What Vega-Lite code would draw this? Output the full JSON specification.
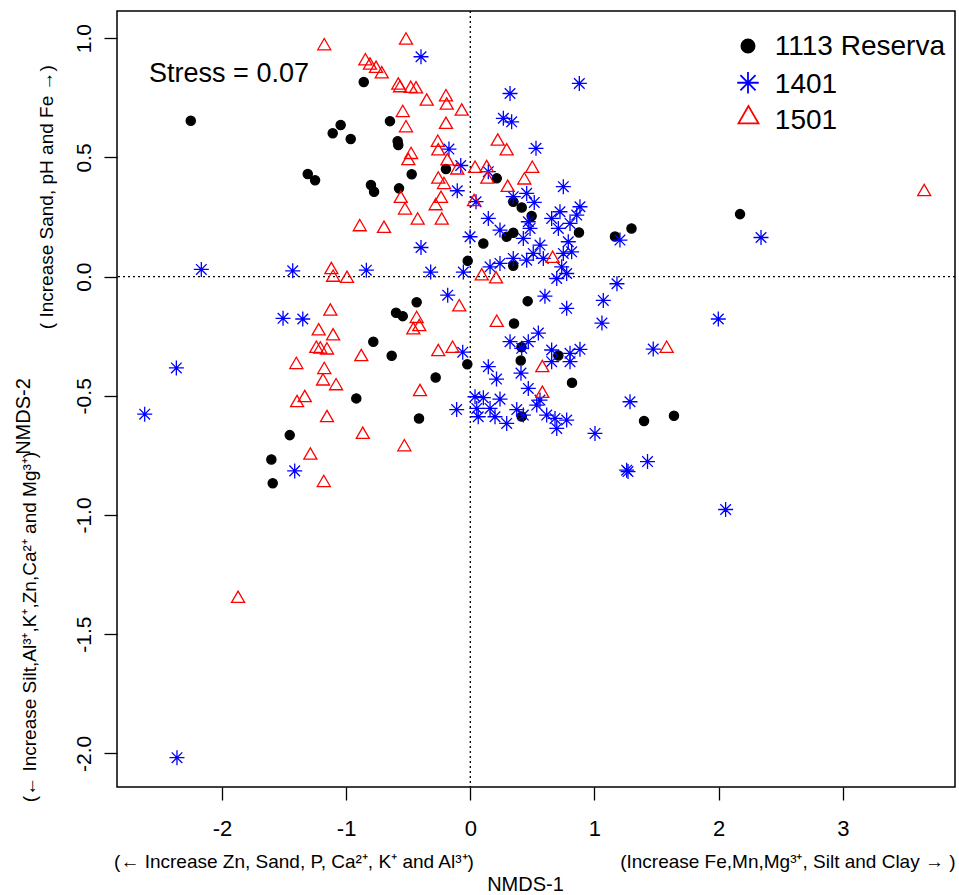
{
  "$schema": "https://vega.github.io/schema/vega-lite/v6.json",
  "width": 838,
  "height": 776,
  "autosize": {"type": "none"},
  "padding": {"left": 117, "top": 11, "right": 4, "bottom": 108},
  "background": "white",
  "config": {
    "view": {"stroke": "#000000", "strokeWidth": 1.5},
    "font": "Liberation Sans"
  },
  "datasets": {
    "nmds": [
      {"site": "1113 Reserva", "NMDS1": -2.251, "NMDS2": 0.654},
      {"site": "1113 Reserva", "NMDS1": -0.858, "NMDS2": 0.816},
      {"site": "1113 Reserva", "NMDS1": -1.044, "NMDS2": 0.636},
      {"site": "1113 Reserva", "NMDS1": -1.108, "NMDS2": 0.601},
      {"site": "1113 Reserva", "NMDS1": -0.963, "NMDS2": 0.577},
      {"site": "1113 Reserva", "NMDS1": -1.309, "NMDS2": 0.430},
      {"site": "1113 Reserva", "NMDS1": -1.250, "NMDS2": 0.404},
      {"site": "1113 Reserva", "NMDS1": -0.800, "NMDS2": 0.384},
      {"site": "1113 Reserva", "NMDS1": -0.775, "NMDS2": 0.356},
      {"site": "1113 Reserva", "NMDS1": -0.647, "NMDS2": 0.652},
      {"site": "1113 Reserva", "NMDS1": -0.585, "NMDS2": 0.568},
      {"site": "1113 Reserva", "NMDS1": -0.580, "NMDS2": 0.552},
      {"site": "1113 Reserva", "NMDS1": -0.472, "NMDS2": 0.429},
      {"site": "1113 Reserva", "NMDS1": -0.574, "NMDS2": 0.370},
      {"site": "1113 Reserva", "NMDS1": -0.196, "NMDS2": 0.451},
      {"site": "1113 Reserva", "NMDS1": 0.213, "NMDS2": 0.412},
      {"site": "1113 Reserva", "NMDS1": 0.346, "NMDS2": 0.314},
      {"site": "1113 Reserva", "NMDS1": 0.414, "NMDS2": 0.290},
      {"site": "1113 Reserva", "NMDS1": 0.494, "NMDS2": 0.254},
      {"site": "1113 Reserva", "NMDS1": 0.346, "NMDS2": 0.184},
      {"site": "1113 Reserva", "NMDS1": 0.293, "NMDS2": 0.167},
      {"site": "1113 Reserva", "NMDS1": 0.875, "NMDS2": 0.185},
      {"site": "1113 Reserva", "NMDS1": 1.165, "NMDS2": 0.168},
      {"site": "1113 Reserva", "NMDS1": 0.105, "NMDS2": 0.139},
      {"site": "1113 Reserva", "NMDS1": -0.021, "NMDS2": 0.066},
      {"site": "1113 Reserva", "NMDS1": 0.346, "NMDS2": 0.045},
      {"site": "1113 Reserva", "NMDS1": 1.298, "NMDS2": 0.202},
      {"site": "1113 Reserva", "NMDS1": 2.172, "NMDS2": 0.262},
      {"site": "1113 Reserva", "NMDS1": -0.432, "NMDS2": -0.108},
      {"site": "1113 Reserva", "NMDS1": -0.598, "NMDS2": -0.152},
      {"site": "1113 Reserva", "NMDS1": -0.544, "NMDS2": -0.166},
      {"site": "1113 Reserva", "NMDS1": -0.781, "NMDS2": -0.273},
      {"site": "1113 Reserva", "NMDS1": -0.633, "NMDS2": -0.332},
      {"site": "1113 Reserva", "NMDS1": -0.024, "NMDS2": -0.368},
      {"site": "1113 Reserva", "NMDS1": -0.279, "NMDS2": -0.423},
      {"site": "1113 Reserva", "NMDS1": -0.413, "NMDS2": -0.595},
      {"site": "1113 Reserva", "NMDS1": 0.462, "NMDS2": -0.103},
      {"site": "1113 Reserva", "NMDS1": 0.352, "NMDS2": -0.197},
      {"site": "1113 Reserva", "NMDS1": 0.412, "NMDS2": -0.296},
      {"site": "1113 Reserva", "NMDS1": 0.406, "NMDS2": -0.352},
      {"site": "1113 Reserva", "NMDS1": 0.709, "NMDS2": -0.331},
      {"site": "1113 Reserva", "NMDS1": 0.819, "NMDS2": -0.445},
      {"site": "1113 Reserva", "NMDS1": 0.414, "NMDS2": -0.587},
      {"site": "1113 Reserva", "NMDS1": 1.399, "NMDS2": -0.606},
      {"site": "1113 Reserva", "NMDS1": 1.640, "NMDS2": -0.584},
      {"site": "1113 Reserva", "NMDS1": -0.918, "NMDS2": -0.511},
      {"site": "1113 Reserva", "NMDS1": -1.454, "NMDS2": -0.665},
      {"site": "1113 Reserva", "NMDS1": -1.602, "NMDS2": -0.767},
      {"site": "1113 Reserva", "NMDS1": -1.591, "NMDS2": -0.867},
      {"site": "1401", "NMDS1": -0.397, "NMDS2": 0.922},
      {"site": "1401", "NMDS1": 0.320, "NMDS2": 0.768},
      {"site": "1401", "NMDS1": 0.878, "NMDS2": 0.810},
      {"site": "1401", "NMDS1": 0.266, "NMDS2": 0.664},
      {"site": "1401", "NMDS1": 0.333, "NMDS2": 0.649},
      {"site": "1401", "NMDS1": 0.529, "NMDS2": 0.538},
      {"site": "1401", "NMDS1": -0.172, "NMDS2": 0.535},
      {"site": "1401", "NMDS1": -0.077, "NMDS2": 0.466},
      {"site": "1401", "NMDS1": 0.145, "NMDS2": 0.440},
      {"site": "1401", "NMDS1": -0.105, "NMDS2": 0.360},
      {"site": "1401", "NMDS1": 0.046, "NMDS2": 0.314},
      {"site": "1401", "NMDS1": 0.749, "NMDS2": 0.377},
      {"site": "1401", "NMDS1": 0.346, "NMDS2": 0.335},
      {"site": "1401", "NMDS1": 0.454, "NMDS2": 0.349},
      {"site": "1401", "NMDS1": 0.515, "NMDS2": 0.311},
      {"site": "1401", "NMDS1": 0.145, "NMDS2": 0.244},
      {"site": "1401", "NMDS1": 0.722, "NMDS2": 0.272},
      {"site": "1401", "NMDS1": 0.883, "NMDS2": 0.293},
      {"site": "1401", "NMDS1": 0.857, "NMDS2": 0.258},
      {"site": "1401", "NMDS1": 0.655, "NMDS2": 0.244},
      {"site": "1401", "NMDS1": 0.803, "NMDS2": 0.223},
      {"site": "1401", "NMDS1": 0.709, "NMDS2": 0.202},
      {"site": "1401", "NMDS1": 0.467, "NMDS2": 0.230},
      {"site": "1401", "NMDS1": 0.481, "NMDS2": 0.202},
      {"site": "1401", "NMDS1": 0.239, "NMDS2": 0.195},
      {"site": "1401", "NMDS1": 0.427, "NMDS2": 0.160},
      {"site": "1401", "NMDS1": 0.561, "NMDS2": 0.132},
      {"site": "1401", "NMDS1": 0.789, "NMDS2": 0.146},
      {"site": "1401", "NMDS1": 0.749, "NMDS2": 0.097},
      {"site": "1401", "NMDS1": 0.816, "NMDS2": 0.104},
      {"site": "1401", "NMDS1": 0.507, "NMDS2": 0.097},
      {"site": "1401", "NMDS1": 0.454, "NMDS2": 0.069},
      {"site": "1401", "NMDS1": 0.346, "NMDS2": 0.076},
      {"site": "1401", "NMDS1": 0.239, "NMDS2": 0.055},
      {"site": "1401", "NMDS1": 0.159, "NMDS2": 0.041},
      {"site": "1401", "NMDS1": 0.588, "NMDS2": 0.076},
      {"site": "1401", "NMDS1": 0.736, "NMDS2": 0.041},
      {"site": "1401", "NMDS1": 0.776, "NMDS2": 0.013},
      {"site": "1401", "NMDS1": 0.696, "NMDS2": -0.008},
      {"site": "1401", "NMDS1": 1.205, "NMDS2": 0.153},
      {"site": "1401", "NMDS1": 1.181, "NMDS2": -0.030},
      {"site": "1401", "NMDS1": -0.002, "NMDS2": 0.167},
      {"site": "1401", "NMDS1": -0.397, "NMDS2": 0.122},
      {"site": "1401", "NMDS1": -0.319, "NMDS2": 0.019},
      {"site": "1401", "NMDS1": -0.056, "NMDS2": 0.019},
      {"site": "1401", "NMDS1": -2.166, "NMDS2": 0.030},
      {"site": "1401", "NMDS1": -1.430, "NMDS2": 0.024},
      {"site": "1401", "NMDS1": -0.837, "NMDS2": 0.027},
      {"site": "1401", "NMDS1": 2.341, "NMDS2": 0.164},
      {"site": "1401", "NMDS1": -1.508, "NMDS2": -0.175},
      {"site": "1401", "NMDS1": -1.349, "NMDS2": -0.178},
      {"site": "1401", "NMDS1": -2.367, "NMDS2": -0.383},
      {"site": "1401", "NMDS1": -2.622, "NMDS2": -0.577},
      {"site": "1401", "NMDS1": -1.414, "NMDS2": -0.815},
      {"site": "1401", "NMDS1": -2.362, "NMDS2": -2.018},
      {"site": "1401", "NMDS1": -0.182, "NMDS2": -0.078},
      {"site": "1401", "NMDS1": -0.061, "NMDS2": -0.317},
      {"site": "1401", "NMDS1": 0.145, "NMDS2": -0.378},
      {"site": "1401", "NMDS1": 0.211, "NMDS2": -0.430},
      {"site": "1401", "NMDS1": 0.601, "NMDS2": -0.082},
      {"site": "1401", "NMDS1": 0.776, "NMDS2": -0.133},
      {"site": "1401", "NMDS1": 1.071, "NMDS2": -0.100},
      {"site": "1401", "NMDS1": 1.060, "NMDS2": -0.195},
      {"site": "1401", "NMDS1": 0.320, "NMDS2": -0.273},
      {"site": "1401", "NMDS1": 0.467, "NMDS2": -0.273},
      {"site": "1401", "NMDS1": 0.548, "NMDS2": -0.237},
      {"site": "1401", "NMDS1": 0.414, "NMDS2": -0.301},
      {"site": "1401", "NMDS1": 0.655, "NMDS2": -0.308},
      {"site": "1401", "NMDS1": 0.803, "NMDS2": -0.322},
      {"site": "1401", "NMDS1": 0.883, "NMDS2": -0.305},
      {"site": "1401", "NMDS1": 0.655, "NMDS2": -0.357},
      {"site": "1401", "NMDS1": 0.803, "NMDS2": -0.357},
      {"site": "1401", "NMDS1": 0.408, "NMDS2": -0.405},
      {"site": "1401", "NMDS1": 0.467, "NMDS2": -0.469},
      {"site": "1401", "NMDS1": 0.561, "NMDS2": -0.518},
      {"site": "1401", "NMDS1": 0.239, "NMDS2": -0.514},
      {"site": "1401", "NMDS1": 0.038, "NMDS2": -0.504},
      {"site": "1401", "NMDS1": 0.105, "NMDS2": -0.508},
      {"site": "1401", "NMDS1": -0.110, "NMDS2": -0.558},
      {"site": "1401", "NMDS1": 0.052, "NMDS2": -0.553},
      {"site": "1401", "NMDS1": 0.159, "NMDS2": -0.553},
      {"site": "1401", "NMDS1": 0.064, "NMDS2": -0.588},
      {"site": "1401", "NMDS1": 0.199, "NMDS2": -0.588},
      {"site": "1401", "NMDS1": 0.293, "NMDS2": -0.616},
      {"site": "1401", "NMDS1": 0.374, "NMDS2": -0.558},
      {"site": "1401", "NMDS1": 0.427, "NMDS2": -0.581},
      {"site": "1401", "NMDS1": 0.535, "NMDS2": -0.539},
      {"site": "1401", "NMDS1": 0.615, "NMDS2": -0.581},
      {"site": "1401", "NMDS1": 0.682, "NMDS2": -0.595},
      {"site": "1401", "NMDS1": 0.776, "NMDS2": -0.602},
      {"site": "1401", "NMDS1": 0.696, "NMDS2": -0.637},
      {"site": "1401", "NMDS1": 1.004, "NMDS2": -0.658},
      {"site": "1401", "NMDS1": 1.286, "NMDS2": -0.525},
      {"site": "1401", "NMDS1": 1.259, "NMDS2": -0.812},
      {"site": "1401", "NMDS1": 1.270, "NMDS2": -0.818},
      {"site": "1401", "NMDS1": 1.427, "NMDS2": -0.776},
      {"site": "1401", "NMDS1": 1.997, "NMDS2": -0.178},
      {"site": "1401", "NMDS1": 1.473, "NMDS2": -0.304},
      {"site": "1401", "NMDS1": 2.056, "NMDS2": -0.977},
      {"site": "1501", "NMDS1": -1.176, "NMDS2": 0.975},
      {"site": "1501", "NMDS1": -0.518, "NMDS2": 0.999},
      {"site": "1501", "NMDS1": -0.845, "NMDS2": 0.912},
      {"site": "1501", "NMDS1": -0.808, "NMDS2": 0.894},
      {"site": "1501", "NMDS1": -0.759, "NMDS2": 0.880},
      {"site": "1501", "NMDS1": -0.713, "NMDS2": 0.857},
      {"site": "1501", "NMDS1": -0.580, "NMDS2": 0.810},
      {"site": "1501", "NMDS1": -0.566, "NMDS2": 0.799},
      {"site": "1501", "NMDS1": -0.480, "NMDS2": 0.796},
      {"site": "1501", "NMDS1": -0.437, "NMDS2": 0.794},
      {"site": "1501", "NMDS1": -0.351, "NMDS2": 0.743},
      {"site": "1501", "NMDS1": -0.196, "NMDS2": 0.761},
      {"site": "1501", "NMDS1": -0.190, "NMDS2": 0.726},
      {"site": "1501", "NMDS1": -0.069, "NMDS2": 0.701},
      {"site": "1501", "NMDS1": -0.544, "NMDS2": 0.695},
      {"site": "1501", "NMDS1": -0.518, "NMDS2": 0.631},
      {"site": "1501", "NMDS1": -0.196, "NMDS2": 0.645},
      {"site": "1501", "NMDS1": -0.262, "NMDS2": 0.570},
      {"site": "1501", "NMDS1": -0.258, "NMDS2": 0.534},
      {"site": "1501", "NMDS1": -0.477, "NMDS2": 0.519},
      {"site": "1501", "NMDS1": -0.499, "NMDS2": 0.493},
      {"site": "1501", "NMDS1": -0.185, "NMDS2": 0.492},
      {"site": "1501", "NMDS1": -0.258, "NMDS2": 0.416},
      {"site": "1501", "NMDS1": -0.212, "NMDS2": 0.393},
      {"site": "1501", "NMDS1": -0.105, "NMDS2": 0.454},
      {"site": "1501", "NMDS1": 0.038, "NMDS2": 0.461},
      {"site": "1501", "NMDS1": 0.132, "NMDS2": 0.464},
      {"site": "1501", "NMDS1": 0.137, "NMDS2": 0.416},
      {"site": "1501", "NMDS1": 0.221, "NMDS2": 0.575},
      {"site": "1501", "NMDS1": 0.293, "NMDS2": 0.534},
      {"site": "1501", "NMDS1": 0.499, "NMDS2": 0.461},
      {"site": "1501", "NMDS1": 0.435, "NMDS2": 0.412},
      {"site": "1501", "NMDS1": 0.301, "NMDS2": 0.381},
      {"site": "1501", "NMDS1": -0.560, "NMDS2": 0.335},
      {"site": "1501", "NMDS1": -0.526, "NMDS2": 0.286},
      {"site": "1501", "NMDS1": -0.424, "NMDS2": 0.244},
      {"site": "1501", "NMDS1": -0.279, "NMDS2": 0.304},
      {"site": "1501", "NMDS1": -0.236, "NMDS2": 0.335},
      {"site": "1501", "NMDS1": -0.230, "NMDS2": 0.244},
      {"site": "1501", "NMDS1": -0.695, "NMDS2": 0.209},
      {"site": "1501", "NMDS1": -0.890, "NMDS2": 0.216},
      {"site": "1501", "NMDS1": 0.030, "NMDS2": 0.321},
      {"site": "1501", "NMDS1": 0.663, "NMDS2": 0.083},
      {"site": "1501", "NMDS1": 0.092, "NMDS2": 0.010},
      {"site": "1501", "NMDS1": 0.207, "NMDS2": -0.003},
      {"site": "1501", "NMDS1": 3.655, "NMDS2": 0.363},
      {"site": "1501", "NMDS1": -1.119, "NMDS2": 0.036},
      {"site": "1501", "NMDS1": -1.105, "NMDS2": 0.004},
      {"site": "1501", "NMDS1": -0.993, "NMDS2": -0.001},
      {"site": "1501", "NMDS1": -1.127, "NMDS2": -0.138},
      {"site": "1501", "NMDS1": -1.221, "NMDS2": -0.221},
      {"site": "1501", "NMDS1": -1.105, "NMDS2": -0.242},
      {"site": "1501", "NMDS1": -1.240, "NMDS2": -0.294},
      {"site": "1501", "NMDS1": -1.208, "NMDS2": -0.297},
      {"site": "1501", "NMDS1": -1.154, "NMDS2": -0.301},
      {"site": "1501", "NMDS1": -1.401, "NMDS2": -0.362},
      {"site": "1501", "NMDS1": -1.176, "NMDS2": -0.383},
      {"site": "1501", "NMDS1": -1.186, "NMDS2": -0.431},
      {"site": "1501", "NMDS1": -1.081, "NMDS2": -0.451},
      {"site": "1501", "NMDS1": -1.395, "NMDS2": -0.522},
      {"site": "1501", "NMDS1": -1.333, "NMDS2": -0.501},
      {"site": "1501", "NMDS1": -1.154, "NMDS2": -0.585},
      {"site": "1501", "NMDS1": -0.878, "NMDS2": -0.329},
      {"site": "1501", "NMDS1": -0.866, "NMDS2": -0.655},
      {"site": "1501", "NMDS1": -1.288, "NMDS2": -0.742},
      {"site": "1501", "NMDS1": -1.180, "NMDS2": -0.857},
      {"site": "1501", "NMDS1": -1.870, "NMDS2": -1.343},
      {"site": "1501", "NMDS1": -0.089, "NMDS2": -0.120},
      {"site": "1501", "NMDS1": -0.432, "NMDS2": -0.169},
      {"site": "1501", "NMDS1": -0.411, "NMDS2": -0.203},
      {"site": "1501", "NMDS1": -0.459, "NMDS2": -0.217},
      {"site": "1501", "NMDS1": -0.258, "NMDS2": -0.308},
      {"site": "1501", "NMDS1": -0.143, "NMDS2": -0.294},
      {"site": "1501", "NMDS1": 0.213, "NMDS2": -0.185},
      {"site": "1501", "NMDS1": 0.580, "NMDS2": -0.375},
      {"site": "1501", "NMDS1": 0.580, "NMDS2": -0.483},
      {"site": "1501", "NMDS1": -0.405, "NMDS2": -0.476},
      {"site": "1501", "NMDS1": -0.531, "NMDS2": -0.707},
      {"site": "1501", "NMDS1": 1.581, "NMDS2": -0.294}
    ]
  },
  "layer": [
    {
      "data": {"values": [{"ref": 0}]},
      "mark": {"type": "rule", "color": "#000000", "strokeWidth": 1.3, "strokeDash": [2, 3]},
      "encoding": {"x": {"field": "ref", "type": "quantitative"}}
    },
    {
      "data": {"values": [{"ref": 0}]},
      "mark": {"type": "rule", "color": "#000000", "strokeWidth": 1.3, "strokeDash": [2, 3]},
      "encoding": {"y": {"field": "ref", "type": "quantitative"}}
    },
    {
      "data": {"name": "nmds"},
      "mark": {"type": "point", "opacity": 1, "strokeWidth": 1.3},
      "encoding": {
        "x": {
          "field": "NMDS1", "type": "quantitative",
          "scale": {"domain": [-2.845, 3.903], "nice": false, "zero": false},
          "axis": {
            "values": [-2, -1, 0, 1, 2, 3], "grid": false, "domain": false, "format": "d",
            "tickSize": 13, "tickWidth": 1.3, "tickColor": "#000000",
            "labelFont": "Liberation Sans", "labelFontSize": 22, "labelColor": "#000000",
            "labelPadding": 18, "labelBaseline": "top",
            "labelExpr": "replace(datum.label, '\u2212', '-')",
            "title": "NMDS-1", "titleFont": "Liberation Sans", "titleFontSize": 20,
            "titleFontWeight": "normal", "titleColor": "#000000",
            "titleX": 408, "titleY": 103, "titleBaseline": "alphabetic", "titleAlign": "center"
          }
        },
        "y": {
          "field": "NMDS2", "type": "quantitative",
          "scale": {"domain": [-2.141, 1.114], "nice": false, "zero": false},
          "axis": {
            "values": [-2, -1.5, -1, -0.5, 0, 0.5, 1], "grid": false, "domain": false,
            "tickSize": 13, "tickWidth": 1.3, "tickColor": "#000000",
            "labelFont": "Liberation Sans", "labelFontSize": 21, "labelColor": "#000000",
            "labelPadding": 14, "labelAngle": 270, "labelAlign": "center", "labelBaseline": "alphabetic",
            "format": ".1f",
            "labelExpr": "replace(datum.label, '\u2212', '-')",
            "title": "NMDS-2", "titleFont": "Liberation Sans", "titleFontSize": 20,
            "titleFontWeight": "normal", "titleColor": "#000000",
            "titleAngle": 270, "titleX": -88, "titleY": 405, "titleBaseline": "alphabetic", "titleAlign": "center"
          }
        },
        "shape": {
          "field": "site", "type": "nominal", "legend": null,
          "scale": {"domain": ["1113 Reserva", "1401", "1501"],
                    "range": ["circle", "M-1,0L1,0M0,-1L0,1M-0.7071,-0.7071L0.7071,0.7071M-0.7071,0.7071L0.7071,-0.7071", "triangle-up"]}
        },
        "stroke": {
          "field": "site", "type": "nominal", "legend": null,
          "scale": {"domain": ["1113 Reserva", "1401", "1501"], "range": ["#000000", "#0000ff", "#ff0000"]}
        },
        "fill": {
          "field": "site", "type": "nominal", "legend": null,
          "scale": {"domain": ["1113 Reserva", "1401", "1501"], "range": ["#000000", "transparent", "transparent"]}
        },
        "size": {
          "field": "site", "type": "nominal", "legend": null,
          "scale": {"type": "ordinal", "domain": ["1113 Reserva", "1401", "1501"], "range": [85, 225, 170]}
        }
      }
    },
    {
      "data": {"values": [{"site": "1113 Reserva"}]},
      "mark": {"type": "point", "opacity": 1, "strokeWidth": 1.8, "size": 175},
      "encoding": {
        "x": {"datum": 2.236, "type": "quantitative"},
        "y": {"datum": 0.967, "type": "quantitative"},
        "shape": {"field": "site", "type": "nominal", "legend": null},
        "stroke": {"field": "site", "type": "nominal", "legend": null},
        "fill": {"field": "site", "type": "nominal", "legend": null}
      }
    },
    {
      "data": {"values": [{"site": "1401"}]},
      "mark": {"type": "point", "opacity": 1, "strokeWidth": 1.8, "size": 460},
      "encoding": {
        "x": {"datum": 2.236, "type": "quantitative"},
        "y": {"datum": 0.813, "type": "quantitative"},
        "shape": {"field": "site", "type": "nominal", "legend": null},
        "stroke": {"field": "site", "type": "nominal", "legend": null},
        "fill": {"field": "site", "type": "nominal", "legend": null}
      }
    },
    {
      "data": {"values": [{"site": "1501"}]},
      "mark": {"type": "point", "opacity": 1, "strokeWidth": 1.8, "size": 400},
      "encoding": {
        "x": {"datum": 2.24, "type": "quantitative"},
        "y": {"datum": 0.679, "type": "quantitative"},
        "shape": {"field": "site", "type": "nominal", "legend": null},
        "stroke": {"field": "site", "type": "nominal", "legend": null},
        "fill": {"field": "site", "type": "nominal", "legend": null}
      }
    },
    {
      "data": {"values": [{"site": "1113 Reserva"}]},
      "mark": {"type": "text", "font": "Liberation Sans", "fontSize": 28, "fill": "#000000", "align": "left", "baseline": "alphabetic"},
      "encoding": {
        "x": {"datum": 2.452, "type": "quantitative"},
        "y": {"datum": 0.929, "type": "quantitative"},
        "text": {"field": "site"}
      }
    },
    {
      "data": {"values": [{"site": "1401"}]},
      "mark": {"type": "text", "font": "Liberation Sans", "fontSize": 28, "fill": "#000000", "align": "left", "baseline": "alphabetic"},
      "encoding": {
        "x": {"datum": 2.452, "type": "quantitative"},
        "y": {"datum": 0.771, "type": "quantitative"},
        "text": {"field": "site"}
      }
    },
    {
      "data": {"values": [{"site": "1501"}]},
      "mark": {"type": "text", "font": "Liberation Sans", "fontSize": 28, "fill": "#000000", "align": "left", "baseline": "alphabetic"},
      "encoding": {
        "x": {"datum": 2.452, "type": "quantitative"},
        "y": {"datum": 0.617, "type": "quantitative"},
        "text": {"field": "site"}
      }
    },
    {
      "data": {"values": [{"label": "Stress = 0.07"}]},
      "mark": {"type": "text", "font": "Liberation Sans", "fontSize": 27, "fill": "#000000", "align": "center", "baseline": "alphabetic"},
      "encoding": {
        "x": {"datum": -1.943, "type": "quantitative"},
        "y": {"datum": 0.817, "type": "quantitative"},
        "text": {"field": "label"}
      }
    },
    {
      "data": {"values": [{"label": "(\u2190 Increase Zn, Sand, P, Ca\u00b2\u207a, K\u207a and Al\u00b3\u207a)"}]},
      "mark": {"type": "text", "font": "Liberation Sans", "fontSize": 19, "fill": "#000000", "align": "center", "baseline": "alphabetic"},
      "encoding": {
        "x": {"datum": -1.42, "type": "quantitative"},
        "y": {"datum": -2.481, "type": "quantitative"},
        "text": {"field": "label"}
      }
    },
    {
      "data": {"values": [{"label": "(Increase Fe,Mn,Mg\u00b3\u207a, Silt and Clay \u2192 )"}]},
      "mark": {"type": "text", "font": "Liberation Sans", "fontSize": 19, "fill": "#000000", "align": "center", "baseline": "alphabetic"},
      "encoding": {
        "x": {"datum": 2.557, "type": "quantitative"},
        "y": {"datum": -2.481, "type": "quantitative"},
        "text": {"field": "label"}
      }
    },
    {
      "data": {"values": [{"label": "( Increase Sand, pH and Fe \u2192)"}]},
      "mark": {"type": "text", "font": "Liberation Sans", "fontSize": 19, "fill": "#000000", "align": "center", "baseline": "alphabetic", "angle": 270},
      "encoding": {
        "x": {"datum": -3.36, "type": "quantitative"},
        "y": {"datum": 0.333, "type": "quantitative"},
        "text": {"field": "label"}
      }
    },
    {
      "data": {"values": [{"label": "(\u2190 Increase Silt,Al\u00b3\u207a,K\u207a,Zn,Ca\u00b2\u207a and Mg\u00b3\u207a)"}]},
      "mark": {"type": "text", "font": "Liberation Sans", "fontSize": 19, "fill": "#000000", "align": "center", "baseline": "alphabetic", "angle": 270},
      "encoding": {
        "x": {"datum": -3.497, "type": "quantitative"},
        "y": {"datum": -1.47, "type": "quantitative"},
        "text": {"field": "label"}
      }
    }
  ]
}
